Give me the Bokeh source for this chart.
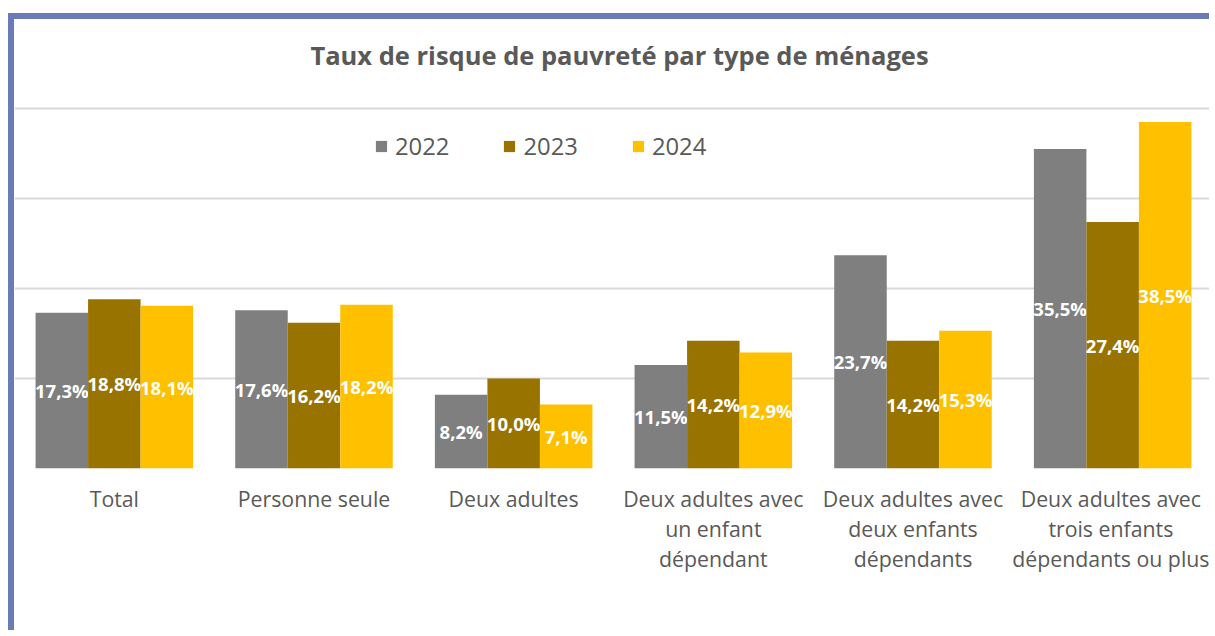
from bokeh.plotting import figure
from bokeh.models import ColumnDataSource, FixedTicker, Legend, LegendItem, Label
from bokeh.transform import dodge
from bokeh.core.properties import value
from bokeh.embed import file_html
from bokeh.resources import INLINE

title_text = "Taux de risque de pauvreté par type de ménages"
categories = [
    "Total",
    "Personne seule",
    "Deux adultes",
    "Deux adultes avec\nun enfant\ndépendant",
    "Deux adultes avec\ndeux enfants\ndépendants",
    "Deux adultes avec\ntrois enfants\ndépendants ou plus",
]
years = ["2022", "2023", "2024"]
v2022 = [17.3, 17.6, 8.2, 11.5, 23.7, 35.5]
v2023 = [18.8, 16.2, 10.0, 14.2, 14.2, 27.4]
v2024 = [18.1, 18.2, 7.1, 12.9, 15.3, 38.5]
colors = ["#7F7F7F", "#997300", "#FFC000"]
y_ticks = [0, 10, 20, 30, 40]

FONT = "Open Sans"
TXT = "#595959"

p = figure(
    x_range=categories,
    y_range=(0, 49.9),
    width=1201,
    height=617,
    output_backend="svg",
    toolbar_location=None,
    min_border_left=0,
    min_border_right=3,
    min_border_top=0,
    min_border_bottom=168,
)
p.styles = {
    "border-top": "6px solid #6B7BB8",
    "border-left": "6px solid #6B7BB8",
    "margin-top": "13px",
    "margin-left": "8px",
}
p.outline_line_color = None
p.background_fill_color = "white"
p.border_fill_color = "white"

src = ColumnDataSource(dict(
    cat=categories,
    v2022=v2022, v2023=v2023, v2024=v2024,
    h2022=[v / 2 for v in v2022], h2023=[v / 2 for v in v2023], h2024=[v / 2 for v in v2024],
    t2022=[f"{v:.1f}".replace(".", ",") + "%" for v in v2022],
    t2023=[f"{v:.1f}".replace(".", ",") + "%" for v in v2023],
    t2024=[f"{v:.1f}".replace(".", ",") + "%" for v in v2024],
))

bw = 0.263
offsets = [-bw, 0.0, bw]
items = []
for yr, col, off in zip(years, colors, offsets):
    r = p.vbar(x=dodge("cat", off, range=p.x_range), top="v" + yr, width=bw,
               source=src, fill_color=col, line_color=None)
    items.append(LegendItem(label=yr, renderers=[r]))
    p.text(x=dodge("cat", off, range=p.x_range), y="h" + yr, text="t" + yr, source=src,
           text_align="center", text_baseline="middle", text_color="white",
           text_font=value(FONT), text_font_style="bold", text_font_size="18.5px")

legend = Legend(items=items, orientation="horizontal", location=(360, 306),
                border_line_color=None, background_fill_alpha=0,
                label_text_font=FONT, label_text_font_size="23.8px",
                label_text_color=TXT, glyph_width=14, glyph_height=14,
                label_standoff=7, spacing=53, margin=0, padding=0)
p.add_layout(legend, "center")

title = Label(x=3.03, y=45.9, text=title_text, text_align="center",
              text_baseline="middle", text_font=FONT, text_font_size="25.5px",
              text_font_style="bold", text_color=TXT)
p.add_layout(title)

p.yaxis.visible = False
p.yaxis.ticker = FixedTicker(ticks=y_ticks)
p.ygrid.ticker = FixedTicker(ticks=y_ticks)
p.ygrid.grid_line_color = "#D9D9D9"
p.ygrid.grid_line_width = 2
p.xgrid.grid_line_color = None

p.xaxis.axis_line_color = None
p.xaxis.major_tick_line_color = None
p.xaxis.minor_tick_line_color = None
p.xaxis.major_label_text_font = FONT
p.xaxis.major_label_text_font_size = "21.3px"
p.xaxis.major_label_text_color = TXT
p.xaxis.major_label_text_line_height = 1.04
p.xaxis.major_label_standoff = 9

open("out.html", "w").write(file_html(p, INLINE))
